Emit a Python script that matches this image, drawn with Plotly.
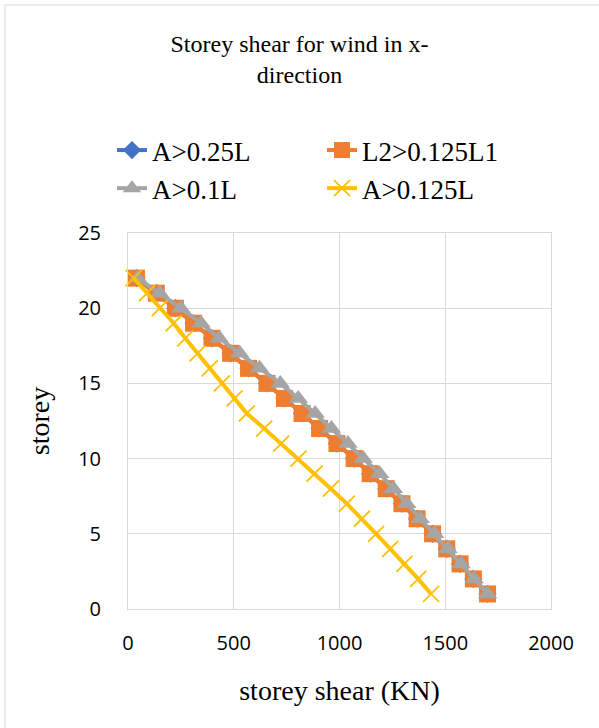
import plotly.graph_objects as go

storeys = [22, 21, 20, 19, 18, 17, 16, 15, 14, 13, 12, 11, 10, 9, 8, 7, 6, 5, 4, 3, 2, 1]

shear_a025 = [40, 134, 224, 310, 397, 485, 570, 657, 740, 823, 906, 988, 1069, 1145, 1221, 1295, 1367, 1440, 1507, 1570, 1633, 1700]
shear_l2 = [40, 134, 224, 310, 397, 485, 570, 657, 740, 823, 906, 988, 1069, 1145, 1221, 1295, 1367, 1440, 1507, 1570, 1633, 1700]
shear_a01 = [45, 150, 250, 345, 432, 528, 622, 720, 805, 885, 962, 1040, 1112, 1190, 1255, 1318, 1382, 1450, 1513, 1575, 1637, 1700]
shear_a0125 = [27, 90, 150, 216, 271, 329, 386, 444, 504, 562, 644, 724, 806, 882, 959, 1035, 1106, 1173, 1240, 1307, 1372, 1433]

x_ticks = [0, 500, 1000, 1500, 2000]
y_ticks = [0, 5, 10, 15, 20, 25]

series = [
    ("A>0.25L", shear_a025, "#4472C4", "diamond", 14, None),
    ("L2>0.125L1", shear_l2, "#ED7D31", "square", 17, None),
    ("A>0.1L", shear_a01, "#A5A5A5", "triangle-up", 17, None),
    ("A>0.125L", shear_a0125, "#FFC000", "x-thin-open", 16, 1.8),
]

fig = go.Figure()
for name, xs, color, sym, size, mlw in series:
    marker = dict(symbol=sym, size=size, color=color)
    if mlw:
        marker["line"] = dict(color=color, width=mlw)
    else:
        marker["line"] = dict(width=0)
    fig.add_trace(go.Scatter(
        x=xs, y=storeys, name=name, mode="lines+markers",
        line=dict(color=color, width=4),
        marker=marker,
        cliponaxis=False,
    ))

serif = "Liberation Serif, Times New Roman, serif"
sans = "Open Sans, sans-serif"

PL, PR, PT, PB = 128, 551, 233, 609
PW, PH = PR - PL, PB - PT

fig.update_layout(
    width=599, height=728,
    margin=dict(l=PL, r=599 - PR, t=PT, b=728 - PB, autoexpand=False),
    paper_bgcolor="white", plot_bgcolor="white",
    title=dict(
        text="Storey shear for wind in x-<br>direction",
        font=dict(family=serif, size=24, color="#000000"),
        x=0.5, xref="container", xanchor="center",
        y=1 - 52 / 728, yref="container", yanchor="top",
        automargin=False,
    ),
    legend=dict(
        orientation="h",
        font=dict(family=serif, size=27, color="#000000"),
        x=(112 - PL) / PW, xref="paper", xanchor="left",
        y=(PB - 126) / PH, yref="paper", yanchor="top",
        entrywidth=165, entrywidthmode="pixels",
        itemsizing="trace",
        tracegroupgap=0,
        bgcolor="rgba(0,0,0,0)",
    ),
    xaxis=dict(
        range=[0, 2000], tickvals=x_ticks,
        showgrid=True, gridcolor="#D9D9D9", gridwidth=1,
        zeroline=False, showline=True, linecolor="#D9D9D9", linewidth=1, mirror=True,
        ticks="", tickfont=dict(family=sans, size=20, color="#000000"),
        ticklabelstandoff=16,
        title=dict(text="storey shear (KN)", font=dict(family=serif, size=28, color="#000000"), standoff=25),
        fixedrange=True,
    ),
    yaxis=dict(
        range=[0, 25], tickvals=y_ticks,
        showgrid=True, gridcolor="#D9D9D9", gridwidth=1,
        zeroline=False, showline=True, linecolor="#D9D9D9", linewidth=1, mirror=True,
        ticks="", tickfont=dict(family=sans, size=20, color="#000000"),
        ticklabelstandoff=22,
        title=dict(text="storey", font=dict(family=serif, size=28, color="#000000"), standoff=20),
        fixedrange=True,
    ),
    shapes=[dict(
        type="rect", xref="paper", yref="paper",
        x0=(5 - PL) / PW, x1=(640 - PL) / PW,
        y0=(PB - 760) / PH, y1=(PB - 5) / PH,
        line=dict(color="#D9D9D9", width=1), fillcolor="rgba(0,0,0,0)", layer="below",
    )],
)

fig.write_html("out.html")
